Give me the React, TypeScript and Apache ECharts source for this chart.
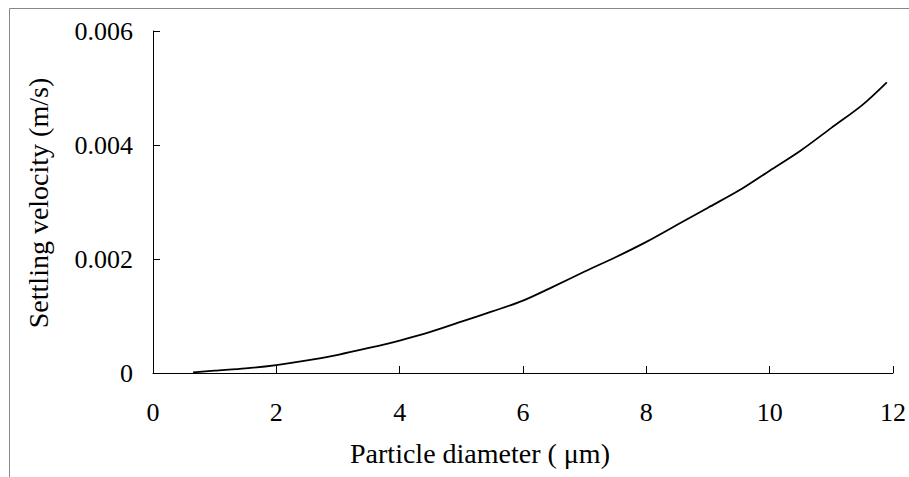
import React, { useEffect, useRef } from "react";
import * as echarts from "echarts";

const diameters = [0.65, 1, 1.5, 2, 2.5, 3, 3.5, 4, 4.5, 5, 5.5, 6, 6.5, 7, 7.5, 8, 8.5, 9, 9.5, 10, 10.5, 11, 11.5, 11.9];
const velocities = [0.00001, 0.00004, 0.00008, 0.00014, 0.00022, 0.00032, 0.00044, 0.00057, 0.00072, 0.0009, 0.00108, 0.00127, 0.00152, 0.00178, 0.00203, 0.0023, 0.0026, 0.0029, 0.0032, 0.00355, 0.0039, 0.0043, 0.0047, 0.0051];
const xTitle = "Particle diameter ( μm)";
const yTitle = "Settling velocity (m/s)";

const FONT = "Liberation Serif, Times New Roman, serif";

export default function App() {
  const ref = useRef<HTMLDivElement>(null);
  useEffect(() => {
    if (!ref.current) return;
    const chart = echarts.init(ref.current, undefined, { renderer: "svg" });
    chart.setOption({
      animation: false,
      backgroundColor: "#ffffff",
      textStyle: { fontFamily: FONT },
      grid: { left: 153, right: 11, top: 31, bottom: 104 },
      xAxis: {
        type: "value",
        min: 0,
        max: 12,
        interval: 2,
        axisLine: { show: true, lineStyle: { color: "#000", width: 1 } },
        axisTick: { show: true, inside: true, length: 7, lineStyle: { color: "#000" } },
        splitLine: { show: false },
        axisLabel: { color: "#000", fontFamily: FONT, fontSize: 26, margin: 26 },
      },
      yAxis: {
        type: "value",
        min: 0,
        max: 0.006,
        interval: 0.002,
        axisLine: { show: true, lineStyle: { color: "#000", width: 1 } },
        axisTick: { show: true, inside: true, length: 7, lineStyle: { color: "#000" } },
        splitLine: { show: false },
        axisLabel: {
          color: "#000",
          fontFamily: FONT,
          fontSize: 26,
          margin: 20,
          formatter: (v: number) => (v === 0 ? "0" : v.toFixed(3)),
        },
      },
      graphic: [
        {
          type: "rect",
          shape: { x: 9.5, y: 8.5, width: 1200, height: 1200 },
          style: { fill: "none", stroke: "#888", lineWidth: 1 },
          silent: true,
        },
        {
          type: "text",
          x: 480,
          y: 453,
          style: {
            text: xTitle,
            fontFamily: FONT,
            fontSize: 28,
            fill: "#000",
            align: "center",
            verticalAlign: "middle",
          },
        },
        {
          type: "text",
          x: 38,
          y: 203,
          rotation: Math.PI / 2,
          style: {
            text: yTitle,
            fontFamily: FONT,
            fontSize: 28,
            fill: "#000",
            align: "center",
            verticalAlign: "middle",
          },
        },
      ],
      series: [
        {
          type: "line",
          data: diameters.map((d, i) => [d, velocities[i]]),
          showSymbol: false,
          smooth: 0.3,
          lineStyle: { color: "#000", width: 1.8 },
        },
      ],
    });
    return () => chart.dispose();
  }, []);
  return <div ref={ref} style={{ width: 909, height: 477, position: "absolute", left: 0, top: 0 }} />;
}
